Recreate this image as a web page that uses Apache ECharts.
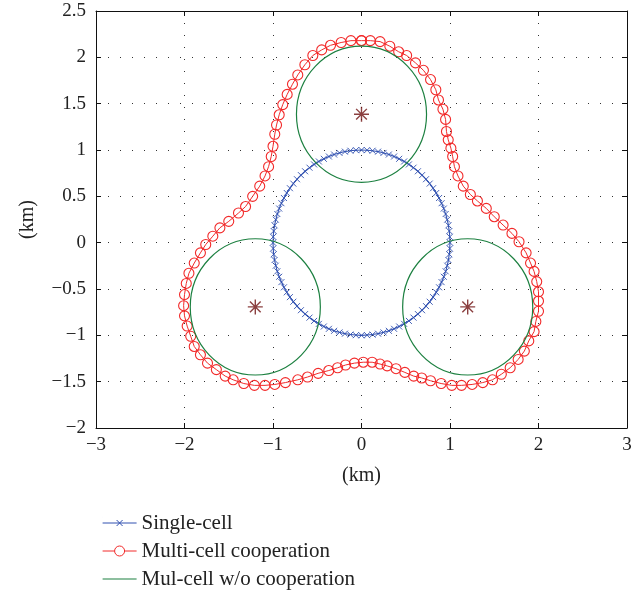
<!DOCTYPE html>
<html>
<head>
<meta charset="utf-8">
<script src="https://cdn.jsdelivr.net/npm/echarts@6/dist/echarts.min.js"></script>
<style>
  html, body { margin: 0; background: #fff; }
  #chart { width: 644px; height: 590px; }
</style>
</head>
<body>
<div id="chart"></div>
<script>
// single-cell coverage: [cx, cy, radius] in km
const singleCell = [[0, 0, 1]]
// coverage of each cell without cooperation: [cx, cy, radius]
const cellCircles = [[0, 1.386, 0.735], [-1.2, -0.693, 0.735], [1.2, -0.693, 0.735]]
// base stations
const bsX = [0, -1.2, 1.2]
const bsY = [1.386, -0.693, -0.693]
const coopX = [0.00, 0.10, 0.21, 0.32, 0.42, 0.51, 0.61, 0.70, 0.78, 0.84, 0.87, 0.92, 0.95, 0.96, 0.98, 1.01, 1.03, 1.05, 1.09, 1.15,
  1.23, 1.31, 1.41, 1.50, 1.60, 1.70, 1.78, 1.86, 1.91, 1.95, 1.98, 2.00, 2.00, 2.00, 1.97, 1.95, 1.89, 1.84, 1.77, 1.68,
  1.58, 1.48, 1.37, 1.25, 1.13, 1.02, 0.90, 0.78, 0.68, 0.59, 0.49, 0.39, 0.29, 0.21, 0.12, 0.02, -0.08, -0.18, -0.27, -0.37,
  -0.49, -0.61, -0.72, -0.86, -0.98, -1.09, -1.21, -1.33, -1.45, -1.54, -1.64, -1.74, -1.82, -1.89, -1.93, -1.97, -2.00, -2.01, -2.00, -1.98,
  -1.95, -1.89, -1.82, -1.76, -1.68, -1.60, -1.50, -1.39, -1.31, -1.23, -1.15, -1.09, -1.05, -1.02, -1.00, -0.98, -0.96, -0.93, -0.89, -0.84,
  -0.78, -0.72, -0.64, -0.55, -0.45, -0.35, -0.23, -0.12, 0.00]
const coopY = [2.18, 2.18, 2.17, 2.12, 2.06, 2.02, 1.94, 1.86, 1.76, 1.65, 1.54, 1.44, 1.33, 1.20, 1.11, 1.02, 0.93, 0.82, 0.72, 0.61,
  0.52, 0.45, 0.37, 0.28, 0.19, 0.10, 0.01, -0.11, -0.22, -0.31, -0.42, -0.53, -0.63, -0.74, -0.85, -0.96, -1.06, -1.17, -1.26, -1.35,
  -1.42, -1.48, -1.51, -1.53, -1.54, -1.54, -1.52, -1.49, -1.46, -1.44, -1.40, -1.36, -1.33, -1.31, -1.29, -1.29, -1.30, -1.32, -1.35, -1.38,
  -1.41, -1.45, -1.48, -1.51, -1.53, -1.54, -1.54, -1.52, -1.48, -1.44, -1.37, -1.30, -1.21, -1.12, -1.01, -0.90, -0.79, -0.68, -0.56, -0.44,
  -0.33, -0.22, -0.11, -0.02, 0.07, 0.16, 0.23, 0.32, 0.39, 0.50, 0.61, 0.72, 0.82, 0.93, 1.04, 1.17, 1.27, 1.38, 1.49, 1.60,
  1.71, 1.81, 1.92, 2.02, 2.08, 2.13, 2.16, 2.18, 2.18]

const BLUE = '#3050b0'
const RED = '#f22a2a'
const GREEN = '#1c8040'
const STAR = '#6e1010'
const FONT = 'Liberation Serif'

const minus = v => (v < 0 ? '\u2212' + (-v) : String(v))

function circleItem(params, api) {
  const c = api.coord([api.value(0), api.value(1)])
  const s = api.size([api.value(2), api.value(2)])
  return {
    type: 'ellipse',
    shape: { cx: c[0], cy: c[1], rx: s[0], ry: s[1] },
    style: { fill: 'none', stroke: GREEN, lineWidth: 1.2 },
  }
}

function singleItem(params, api) {
  const cx = api.value(0), cy = api.value(1), r = api.value(2)
  const c = api.coord([cx, cy])
  const s = api.size([r, r])
  const children = [{
    type: 'ellipse',
    shape: { cx: c[0], cy: c[1], rx: s[0], ry: s[1] },
    style: { fill: 'none', stroke: BLUE, lineWidth: 1.1 },
  }]
  const n = 100, h = 3
  for (let i = 0; i < n; i++) {
    const t = 2 * Math.PI * i / n
    const p = api.coord([cx + r * Math.cos(t), cy + r * Math.sin(t)])
    children.push({ type: 'line', shape: { x1: p[0] - h, y1: p[1] - h, x2: p[0] + h, y2: p[1] + h }, style: { stroke: BLUE, lineWidth: 0.9 } })
    children.push({ type: 'line', shape: { x1: p[0] - h, y1: p[1] + h, x2: p[0] + h, y2: p[1] - h }, style: { stroke: BLUE, lineWidth: 0.9 } })
  }
  return { type: 'group', children }
}

const axisLine = { show: true, onZero: false, lineStyle: { color: '#111', width: 1 } }
const axisTick = { show: true, inside: true, length: 5, lineStyle: { color: '#111' } }
const labelStyle = { color: '#222', fontFamily: FONT, fontSize: 19 }
const nameStyle = { color: '#222', fontFamily: FONT, fontSize: 20 }
const dotted = { show: true, lineStyle: { color: '#333', type: [1, 11], width: 1 } }

const chart = echarts.init(document.getElementById('chart'))
chart.setOption({
  animation: false,
  backgroundColor: '#fff',
  grid: { left: 96, right: 17, top: 11, bottom: 162 },
  xAxis: [
    {
      type: 'value', min: -3, max: 3, interval: 1, position: 'bottom',
      axisLine, axisTick, splitLine: dotted,
      axisLabel: { ...labelStyle, margin: 8, formatter: minus },
      name: '(km)', nameLocation: 'middle', nameGap: 38, nameTextStyle: nameStyle,
    },
    {
      type: 'value', min: -3, max: 3, interval: 1, position: 'top',
      axisLine, axisTick, splitLine: { show: false }, axisLabel: { show: false },
    },
  ],
  yAxis: [
    {
      type: 'value', min: -2, max: 2.5, interval: 0.5, position: 'left',
      axisLine, axisTick, splitLine: dotted,
      axisLabel: { ...labelStyle, margin: 10, formatter: minus },
      name: '(km)', nameLocation: 'middle', nameGap: 58, nameTextStyle: nameStyle,
    },
    {
      type: 'value', min: -2, max: 2.5, interval: 0.5, position: 'right',
      axisLine, axisTick, splitLine: { show: false }, axisLabel: { show: false },
    },
  ],
  legend: {
    orient: 'vertical',
    left: 97,
    top: 507,
    height: 90,
    itemWidth: 34,
    itemHeight: 12,
    itemGap: 6,
    textStyle: { color: '#222', fontFamily: FONT, fontSize: 21, lineHeight: 22 },
    data: [
      {
        name: 'Single-cell',
        icon: 'path://M0,0L0.01,0M0,6L34,6M14,3L20,9M14,9L20,3M34,12L33.99,12',
        itemStyle: { color: 'transparent', borderColor: BLUE, borderWidth: 1 },
      },
      {
        name: 'Multi-cell cooperation',
        icon: 'path://M0,0L0.01,0M0,6L12,6M22,6L34,6M12,6A5,5,0,1,1,22,6A5,5,0,1,1,12,6M34,12L33.99,12',
        itemStyle: { color: 'transparent', borderColor: RED, borderWidth: 1 },
      },
      {
        name: 'Mul-cell w/o cooperation',
        icon: 'path://M0,0L0.01,0M0,6L34,6M34,12L33.99,12',
        itemStyle: { color: 'transparent', borderColor: GREEN, borderWidth: 1.2 },
      },
    ],
  },
  series: [
    {
      name: 'Single-cell',
      type: 'custom',
      renderItem: singleItem,
      data: singleCell,
      itemStyle: { color: BLUE },
      z: 2,
    },
    {
      name: 'Multi-cell cooperation',
      type: 'line',
      data: coopX.map((x, i) => [x, coopY[i]]),
      symbol: 'circle',
      symbolSize: 10,
      showAllSymbol: true,
      color: RED,
      lineStyle: { color: RED, width: 1 },
      itemStyle: { color: 'transparent', borderColor: RED, borderWidth: 1.1 },
      z: 3,
    },
    {
      name: 'Mul-cell w/o cooperation',
      type: 'custom',
      renderItem: circleItem,
      data: cellCircles,
      itemStyle: { color: GREEN },
      z: 4,
    },
    {
      name: 'BS',
      type: 'scatter',
      data: bsX.map((x, i) => [x, bsY[i]]),
      symbol: 'path://M0,-7L0,7M-7,0L7,0M-5,-5L5,5M-5,5L5,-5',
      symbolSize: 15,
      itemStyle: { color: 'transparent', borderColor: STAR, borderWidth: 1.4 },
      z: 5,
    },
  ],
})
</script>
</body>
</html>
